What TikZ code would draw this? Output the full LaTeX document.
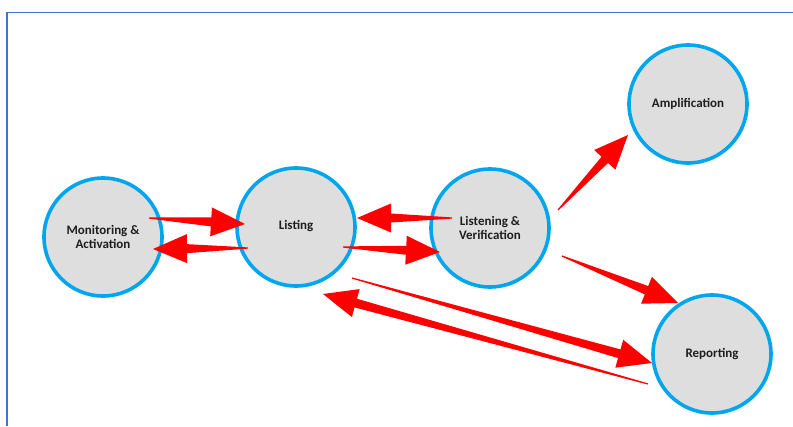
\documentclass[tikz,border=0pt]{standalone}
\usepackage{fontspec}
\setmainfont{Carlito}
\usetikzlibrary{calc}
\definecolor{frameblue}{RGB}{68,114,196}
\definecolor{ringblue}{RGB}{0,166,237}
\definecolor{discgray}{RGB}{222,222,222}
\definecolor{arrowred}{RGB}{255,0,0}
\definecolor{labelink}{RGB}{30,30,30}
\tikzset{
  stage/.style={circle, draw=ringblue, line width=3.6pt, fill=discgray,
    minimum size=118pt, inner sep=0pt, align=center, text=labelink,
    font=\fontsize{13}{14}\selectfont\bfseries},
  frameline/.style={draw=frameblue, line width=1.5pt}
}
% tapered arrow: thin tail at #1, broad triangular head with its tip at #2
\newcommand\wedgearrow[2]{%
  \path (#2) coordinate (wTip) ($(#2)!34pt!(#1)$) coordinate (wBase);
  \fill[arrowred]
    ($(#1)!0.6pt!90:(#2)$) --
    ($(wBase)!4.5pt!90:(wTip)$) --
    ($(wBase)!14.5pt!90:(wTip)$) --
    (wTip) --
    ($(wBase)!14.5pt!-90:(wTip)$) --
    ($(wBase)!4.5pt!-90:(wTip)$) --
    ($(#1)!0.6pt!-90:(#2)$) -- cycle;}
\begin{document}
\begin{tikzpicture}[x=1pt, y=-1pt]
\useasboundingbox (0,0) rectangle (793,426);
\fill[white] (0,0) rectangle (793,426);
\draw[frameline] (7,426) -- (7,12.5) -- (793,12.5);

\node[stage] (M)   at (103,237) {Monitoring \&\\Activation};
\node[stage] (L)   at (296,227) {\raisebox{4pt}{Listing}};
\node[stage] (V)   at (490,228) {Listening \&\\Verification};
\node[stage] (A)   at (688,104) {Amplification};
\node[stage] (R)   at (712,354) {Reporting};

% arrow ends, placed relative to the stages they join
\coordinate (mlS) at ([shift={(46,-19)}]M.center);
\coordinate (mlT) at ([shift={(-51,-3)}]L.center);
\coordinate (lmS) at ([shift={(-48,21)}]L.center);
\coordinate (lmT) at ([shift={(50,12)}]M.center);
\coordinate (vlS) at ([shift={(-38,-10)}]V.center);
\coordinate (vlT) at ([shift={(61,-9)}]L.center);
\coordinate (lvS) at ([shift={(47,20)}]L.center);
\coordinate (lvT) at ([shift={(-50,24)}]V.center);
\coordinate (vaS) at ([shift={(68,-18)}]V.center);
\coordinate (vaT) at ([shift={(-60,31)}]A.center);
\coordinate (vrS) at ([shift={(72,28)}]V.center);
\coordinate (vrT) at ([shift={(-34,-51)}]R.center);
\coordinate (lrS) at ([shift={(56,51)}]L.center);
\coordinate (lrT) at ([shift={(-60,9)}]R.center);
\coordinate (rlS) at ([shift={(-64,30)}]R.center);
\coordinate (rlT) at ([shift={(27,67)}]L.center);

\wedgearrow{mlS}{mlT}
\wedgearrow{lmS}{lmT}
\wedgearrow{vlS}{vlT}
\wedgearrow{lvS}{lvT}
\wedgearrow{vaS}{vaT}
\wedgearrow{vrS}{vrT}
\wedgearrow{lrS}{lrT}
\wedgearrow{rlS}{rlT}
\end{tikzpicture}
\end{document}
